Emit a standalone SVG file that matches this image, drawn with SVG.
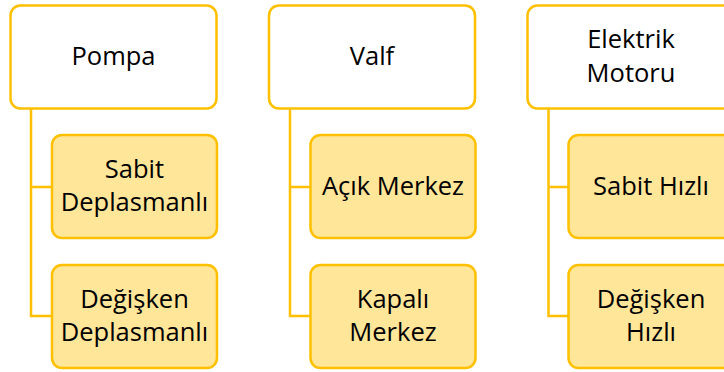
<svg xmlns="http://www.w3.org/2000/svg" width="724" height="372" viewBox="0 0 724 372">
<style>
.top{fill:#FFFFFF;stroke:#FFC000;stroke-width:2.5}
.sub{fill:#FFE699;stroke:#FFC000;stroke-width:2.5}
.conn{fill:none;stroke:#FFC000;stroke-width:2.5}
text{font-family:"Open Sans","Noto Sans","DejaVu Sans",sans-serif;font-size:25.5px;fill:#000;text-anchor:middle}
</style>
<rect width="724" height="372" fill="#FFFFFF"/>
<g id="connectors">
<path class="conn" d="M31,108 V316 H52 M31,187 H52"/>
<path class="conn" d="M290,108 V316 H311 M290,187 H311"/>
<path class="conn" d="M548.5,108 V316 H569 M548.5,187 H569"/>
</g>
<g id="pompa">
<rect class="top" x="10.5" y="5.5" width="206" height="103" rx="10"/>
<text x="113.5" y="65">Pompa</text>
</g>
<g id="sabit-deplasmanli">
<rect class="sub" x="52" y="135" width="165" height="103" rx="10"/>
<text x="134.5" y="178">Sabit</text>
<text x="134.5" y="211">Deplasmanlı</text>
</g>
<g id="degisken-deplasmanli">
<rect class="sub" x="52" y="265" width="165" height="103" rx="10"/>
<text x="134.5" y="308">Değişken</text>
<text x="134.5" y="341">Deplasmanlı</text>
</g>
<g id="valf">
<rect class="top" x="269" y="5.5" width="206" height="103" rx="10"/>
<text x="372" y="65">Valf</text>
</g>
<g id="acik-merkez">
<rect class="sub" x="310.5" y="135" width="165" height="103" rx="10"/>
<text x="393" y="195">Açık Merkez</text>
</g>
<g id="kapali-merkez">
<rect class="sub" x="310.5" y="265" width="165" height="103" rx="10"/>
<text x="393" y="308">Kapalı</text>
<text x="393" y="341">Merkez</text>
</g>
<g id="elektrik-motoru">
<rect class="top" x="527.5" y="5.5" width="206" height="103" rx="10"/>
<text x="631" y="48">Elektrik</text>
<text x="631" y="81.5">Motoru</text>
</g>
<g id="sabit-hizli">
<rect class="sub" x="568.5" y="135" width="165" height="103" rx="10"/>
<text x="651" y="195">Sabit Hızlı</text>
</g>
<g id="degisken-hizli">
<rect class="sub" x="568.5" y="265" width="165" height="103" rx="10"/>
<text x="651" y="308">Değişken</text>
<text x="651" y="341">Hızlı</text>
</g>
</svg>
